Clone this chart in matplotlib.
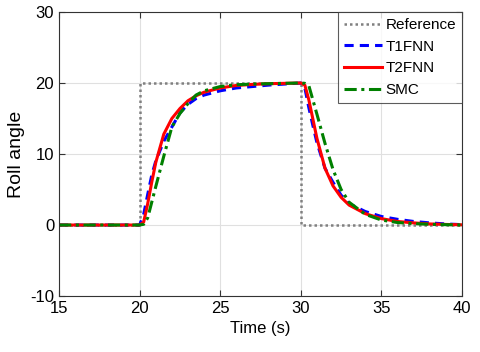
import matplotlib
matplotlib.use("Agg")
import matplotlib.pyplot as plt

# Data
t = [15, 20, 20.25, 20.5, 20.75, 21, 21.5, 22, 22.5, 23, 23.5, 24, 25, 26, 27, 28, 29, 30,
     30.25, 30.5, 30.75, 31, 31.5, 32, 32.5, 33, 34, 35, 36, 37, 38, 39, 40]
t1fnn = [0, 0, 1.5, 4.3, 7.0, 9.0, 11.8, 13.8, 15.8, 17.0, 17.8, 18.3, 18.9, 19.3, 19.5, 19.7, 19.85, 20,
         19.3, 16.5, 14.0, 11.6, 8.0, 6.0, 4.2, 3.0, 1.9, 1.2, 0.8, 0.5, 0.3, 0.15, 0.05]
t2fnn = [0, 0, 0.4, 3.0, 6.0, 8.8, 12.8, 15.0, 16.4, 17.5, 18.2, 18.7, 19.3, 19.65, 19.8, 19.9, 19.95, 20,
         19.7, 17.6, 14.9, 12.2, 8.0, 5.5, 3.9, 2.8, 1.6, 0.9, 0.5, 0.3, 0.15, 0.08, 0.03]
smc = [0, 0, 0.1, 1.0, 3.2, 5.4, 9.7, 13.8, 15.7, 17.1, 18.3, 18.9, 19.5, 19.75, 19.85, 19.9, 19.95, 20,
       19.95, 19.6, 17.6, 15.6, 11.5, 7.8, 5.0, 3.2, 1.5, 0.7, 0.35, 0.2, 0.1, 0.05, 0]
ref_t = [15, 20, 20, 30, 30, 40]
ref_v = [0, 0, 20, 20, 0, 0]

plt.rcParams['font.family'] = ['Liberation Sans', 'DejaVu Sans']
plt.rcParams['axes.unicode_minus'] = False

fig = plt.figure(figsize=(4.8, 3.52), dpi=100)
ax = fig.add_axes([0.123, 0.159, 0.8395, 0.807])

ax.plot(ref_t, ref_v, linestyle=(0, (1, 1.2)), color='#808080', lw=1.8, label='Reference')
ax.plot(t, t1fnn, linestyle=(0, (3, 2)), color='#0000ff', lw=2.2, label='T1FNN')
ax.plot(t, t2fnn, linestyle='-', color='#ff0000', lw=2.2, label='T2FNN')
ax.plot(t, smc, linestyle=(0, (4, 1.5, 1, 1.5)), color='#008000', lw=2.2, label='SMC')

ax.set_xlim(15, 40)
ax.set_ylim(-10, 30)
ax.set_xticks([15, 20, 25, 30, 35, 40])
ax.set_yticks([-10, 0, 10, 20, 30])
ax.grid(True, color='#e0e0e0', lw=0.8)
ax.tick_params(direction='in', top=True, right=True, labelsize=12, length=4, color='#333333')
for s in ax.spines.values():
    s.set_color('#333333')
    s.set_linewidth(0.8)
ax.set_xlabel('Time (s)', fontsize=12)
ax.set_ylabel('Roll angle', fontsize=14)

leg = ax.legend(loc='upper right', fontsize=11, frameon=True, fancybox=False,
                edgecolor='#333333', borderaxespad=0, handlelength=2.5,
                handletextpad=0.2, labelspacing=0.5, borderpad=0.4)
leg.get_frame().set_linewidth(0.8)

fig.savefig('out.png', dpi=100)
